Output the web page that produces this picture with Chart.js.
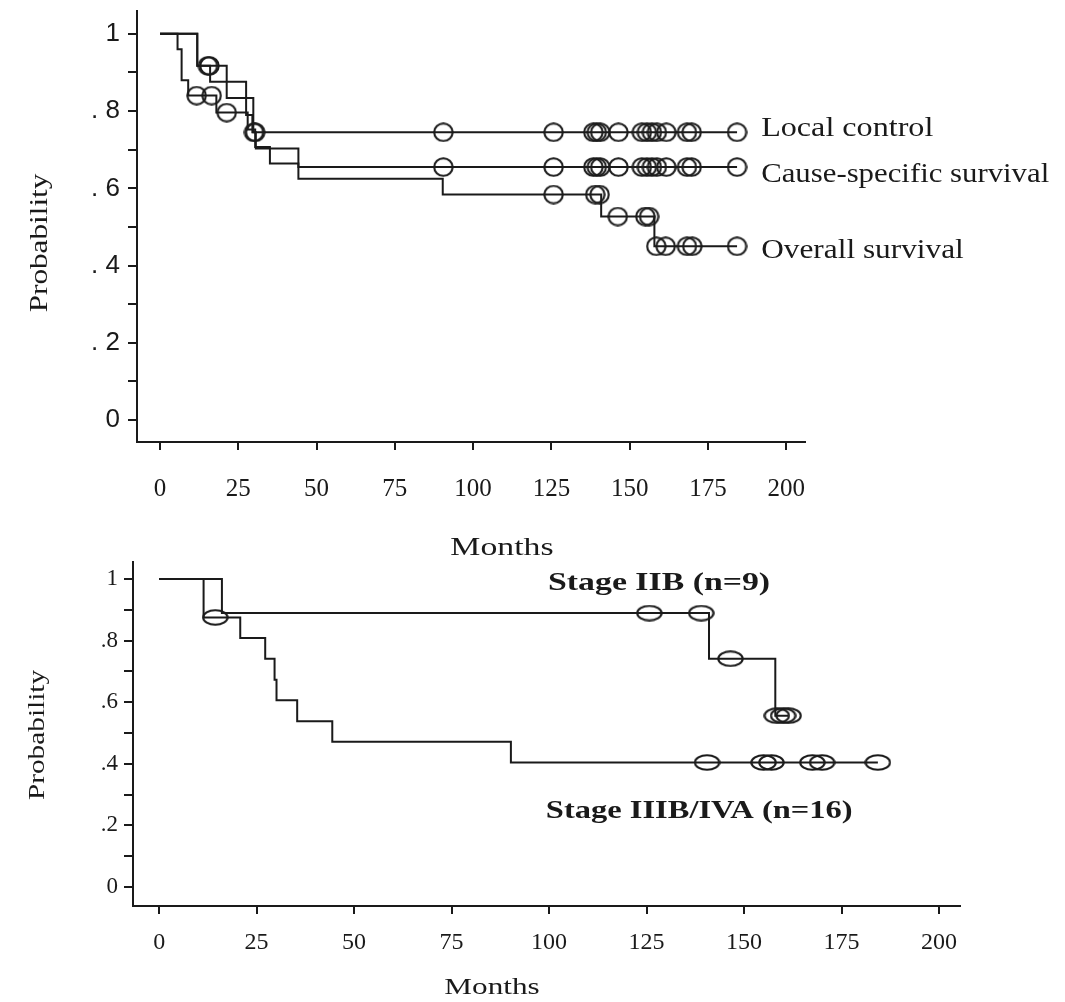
<!DOCTYPE html>
<html>
<head>
<meta charset="utf-8">
<script src="https://cdn.jsdelivr.net/npm/chart.js@4.4.0/dist/chart.umd.min.js"></script>
<style>
  html, body { margin: 0; padding: 0; background: #fff; }
  body { width: 1065px; height: 1002px; position: relative; overflow: hidden; }
  canvas { position: absolute; left: 0; }
  #top { top: 0; }
  #bottom { top: 540px; }
</style>
</head>
<body>
<canvas id="top" width="1065" height="570"></canvas>
<canvas id="bottom" width="1065" height="462"></canvas>
<script>
// ejes
const monthTicks = [0, 25, 50, 75, 100, 125, 150, 175, 200];
const probTicks = [0, 0.1, 0.2, 0.3, 0.4, 0.5, 0.6, 0.7, 0.8, 0.9, 1];
const probLabelsTop = ['0', '', '. 2', '', '. 4', '', '. 6', '', '. 8', '', '1'];
const probLabelsBottom = ['0', '', '.2', '', '.4', '', '.6', '', '.8', '', '1'];

// panel superior: local control
const lcMonths = [0, 11.9, 16, 27.5, 29.8, 184.3];
const lcProb = [1, 0.917, 0.876, 0.834, 0.745, 0.745];
const lcCensored = [15.8, 30.4, 90.5, 125.7, 138.4, 139.5, 140.6, 146.4, 153.9, 155.5, 157.1, 158.7, 161.7, 168.3, 169.8, 184.3];

// panel superior: cause-specific survival
const cssMonths = [0, 11.9, 21.3, 27.5, 29.5, 30.6, 44.2, 184.3];
const cssProb = [1, 0.917, 0.834, 0.79, 0.745, 0.703, 0.655, 0.655];
const cssCensored = [15.3, 30.0, 90.5, 125.7, 138.4, 139.5, 140.6, 146.4, 153.9, 155.5, 157.1, 158.7, 161.7, 168.3, 169.8, 184.3];

// panel superior: overall survival
const osMonths = [0, 5.6, 6.9, 9, 18, 28, 30.4, 35.1, 44.2, 90.3, 140.9, 157.9, 184.3];
const osProb = [1, 0.96, 0.88, 0.84, 0.796, 0.752, 0.707, 0.664, 0.625, 0.584, 0.527, 0.45, 0.45];
const osCensored = [11.7, 16.5, 21.3, 125.7, 139, 140.4, 146.2, 155, 156.2, 158.5, 161.5, 168.3, 170, 184.3];

// panel inferior: por estadio
const iibMonths = [0, 16.1, 141, 158, 161.4];
const iibProb = [1, 0.889, 0.741, 0.556, 0.556];
const iibCensored = [125.7, 139, 146.5, 158.4, 160, 161.4];

const iiibMonths = [0, 11.4, 20.8, 27.2, 29.6, 30.1, 35.4, 44.4, 90.2, 184.3];
const iiibProb = [1, 0.875, 0.808, 0.741, 0.673, 0.606, 0.538, 0.471, 0.404, 0.404];
const iiibCensored = [14.4, 140.5, 155, 157, 167.5, 170, 184.3];

const INK = '#1a1a1a';

function stepAt(months, prob, t) {
  let v = prob[0];
  months.forEach((m, i) => { if (m <= t) v = prob[i]; });
  return v;
}
function curve(months, prob) {
  return months.map((m, i) => ({ x: m, y: prob[i] }));
}
function marks(months, prob, cens) {
  return cens.map(t => ({ x: t, y: stepAt(months, prob, t) }));
}

// marcador de censura (ovalo)
function ring(w, h) {
  const c = document.createElement('canvas');
  c.width = w; c.height = h;
  const g = c.getContext('2d');
  g.strokeStyle = INK;
  g.lineWidth = 2.1;
  g.beginPath();
  g.ellipse(w / 2, h / 2, w / 2 - 1.3, h / 2 - 1.3, 0, 0, Math.PI * 2);
  g.stroke();
  return c;
}

const textPlugin = {
  id: 'texts',
  afterDraw(chart, args, opts) {
    const ctx = chart.ctx;
    const xs = chart.scales.x, ys = chart.scales.y;
    (opts.items || []).forEach(it => {
      const px = it.xv !== undefined ? xs.getPixelForValue(it.xv) : it.px;
      const py = it.yv !== undefined ? ys.getPixelForValue(it.yv) : it.py;
      ctx.save();
      ctx.translate(px, py);
      if (it.rot) ctx.rotate(it.rot);
      ctx.scale(it.sx || 1, 1);
      ctx.font = it.font;
      ctx.fillStyle = INK;
      ctx.textAlign = it.align || 'center';
      ctx.textBaseline = 'middle';
      ctx.fillText(it.text, 0, 0);
      ctx.restore();
    });
  }
};

function lineSet(data) {
  return { type: 'line', data: data, stepped: 'before', borderColor: INK, borderWidth: 2,
           pointRadius: 0, fill: false, clip: false };
}
function markSet(data, img) {
  return { type: 'scatter', data: data, showLine: false, pointStyle: img, pointRadius: 10,
           borderColor: INK, backgroundColor: 'transparent', clip: false };
}

function makeChart(id, cfg) {
  return new Chart(document.getElementById(id), {
    type: 'scatter',
    data: { datasets: cfg.datasets },
    options: {
      responsive: false,
      animation: false,
      layout: { padding: cfg.padding },
      plugins: { legend: { display: false }, tooltip: { enabled: false }, texts: { items: cfg.texts } },
      scales: {
        x: {
          type: 'linear', min: cfg.xMin, max: cfg.xMax,
          afterBuildTicks: s => { s.ticks = monthTicks.map(v => ({ value: v })); },
          afterFit: s => { s.height = cfg.xHeight; s.paddingLeft = 0; s.paddingRight = 0; },
          ticks: { autoSkip: false, maxRotation: 0, color: INK, padding: cfg.xPad, font: cfg.xFont },
          grid: { drawOnChartArea: false, drawTicks: true, tickLength: 8, color: INK, lineWidth: 2 },
          border: { display: true, color: INK, width: 2 }
        },
        y: {
          type: 'linear', min: cfg.yMin, max: cfg.yMax,
          afterBuildTicks: s => { s.ticks = probTicks.map(v => ({ value: v })); },
          afterFit: s => { s.width = cfg.yWidth; s.paddingTop = 0; s.paddingBottom = 0; },
          ticks: { autoSkip: false, color: INK, padding: cfg.yPad, font: cfg.yFont,
                   callback: (v, i) => cfg.yLabels[i] },
          grid: { drawOnChartArea: false, drawTicks: true, tickLength: 9, color: INK, lineWidth: 2 },
          border: { display: true, color: INK, width: 2 }
        }
      }
    },
    plugins: [textPlugin]
  });
}

const topRing = ring(21, 20);
const lowRing = ring(27, 17);
const serif = '"Liberation Serif", "Times New Roman", serif';

makeChart('top', {
  datasets: [
    lineSet(curve(lcMonths, lcProb)),
    lineSet(curve(cssMonths, cssProb)),
    lineSet(curve(osMonths, osProb)),
    markSet(marks(lcMonths, lcProb, lcCensored), topRing),
    markSet(marks(cssMonths, cssProb, cssCensored), topRing),
    markSet(marks(osMonths, osProb, osCensored), topRing)
  ],
  padding: { left: 0, top: 8, right: 260, bottom: 0 },
  xMin: -7.35, xMax: 206, yMin: -0.0566, yMax: 1.059,
  xHeight: 128, yWidth: 137, xPad: 24, yPad: 8,
  xFont: { family: serif, size: 25 },
  yFont: { family: '"Liberation Sans Narrow", "Liberation Sans", Arial, sans-serif', size: 26 },
  yLabels: probLabelsTop,
  texts: [
    { text: 'Probability', px: 40, py: 243, rot: -Math.PI / 2, font: '26px ' + serif, sx: 1.2 },
    { text: 'Months', px: 502, py: 548, font: '26px ' + serif, sx: 1.3 },
    { text: 'Local control', xv: 192, yv: 0.753, align: 'left', font: '27px ' + serif, sx: 1.19 },
    { text: 'Cause-specific survival', xv: 192, yv: 0.635, align: 'left', font: '27px ' + serif, sx: 1.14 },
    { text: 'Overall survival', xv: 192, yv: 0.437, align: 'left', font: '27px ' + serif, sx: 1.16 }
  ]
});

makeChart('bottom', {
  datasets: [
    lineSet(curve(iibMonths, iibProb)),
    lineSet(curve(iiibMonths, iiibProb)),
    markSet(marks(iibMonths, iibProb, iibCensored), lowRing),
    markSet(marks(iiibMonths, iiibProb, iiibCensored), lowRing)
  ],
  padding: { left: 0, top: 22, right: 105, bottom: 0 },
  xMin: -6.7, xMax: 205.36, yMin: -0.062, yMax: 1.055,
  xHeight: 96, yWidth: 133, xPad: 14, yPad: 6,
  xFont: { family: serif, size: 24 },
  yFont: { family: serif, size: 23 },
  yLabels: probLabelsBottom,
  texts: [
    { text: 'Probability', px: 38, py: 195, rot: -Math.PI / 2, font: '24px ' + serif, sx: 1.22 },
    { text: 'Months', px: 492, py: 448, font: '24px ' + serif, sx: 1.3 },
    { text: 'Stage IIB (n=9)', xv: 128.2, yv: 0.987, font: 'bold 26px ' + serif, sx: 1.3 },
    { text: 'Stage IIIB/IVA (n=16)', xv: 138.5, yv: 0.244, font: 'bold 26px ' + serif, sx: 1.25 }
  ]
});
</script>
</body>
</html>
